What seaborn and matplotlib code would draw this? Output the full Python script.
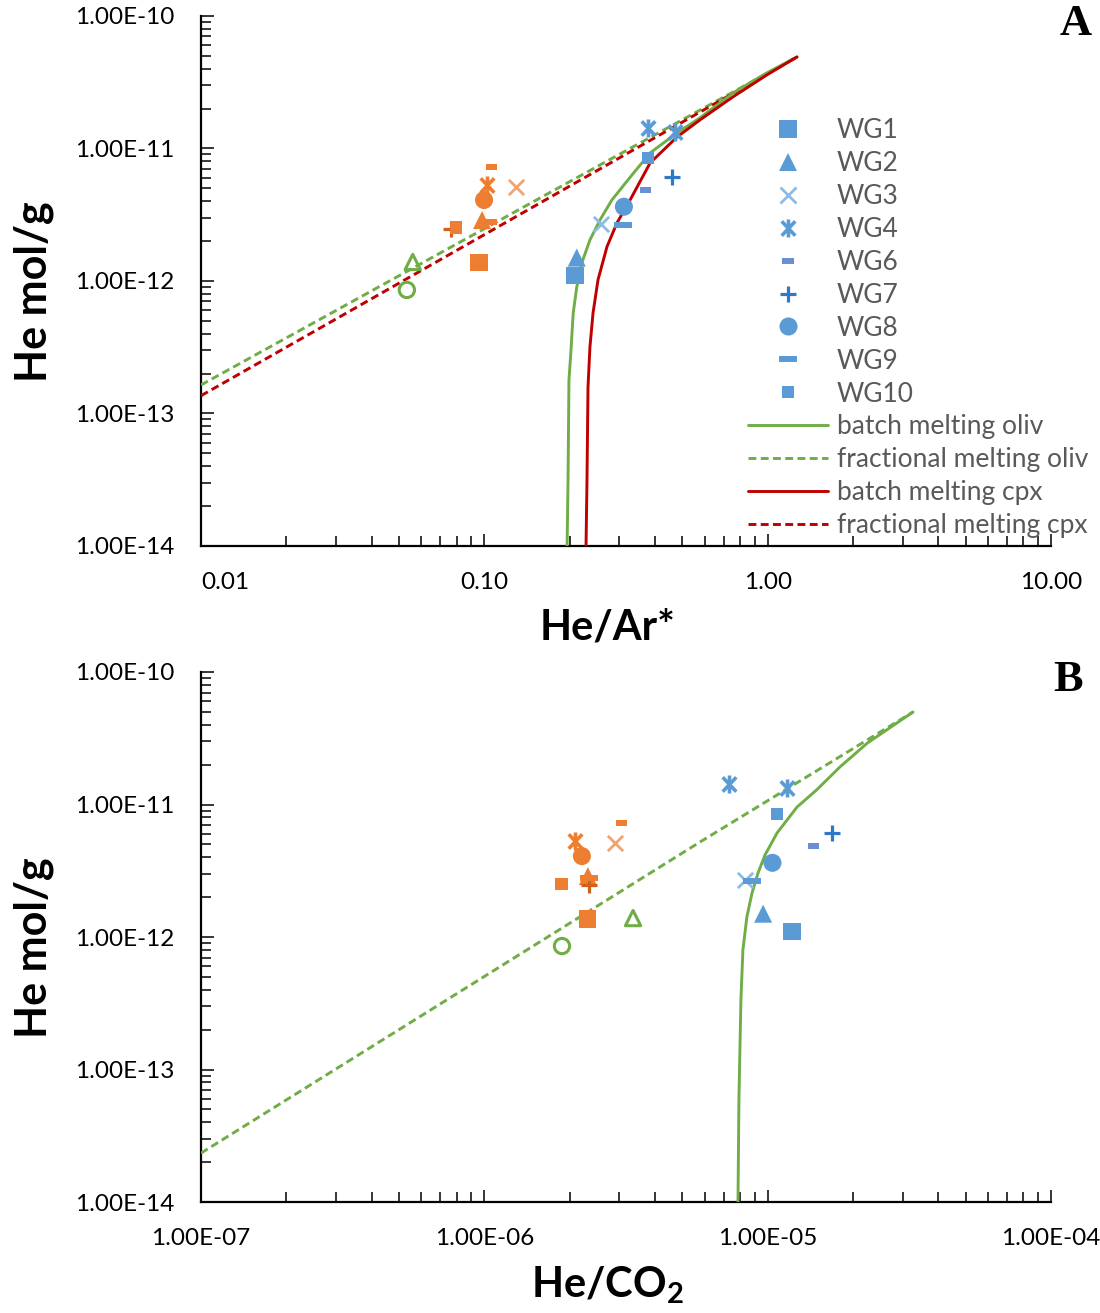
import numpy as np
import pandas as pd
import seaborn as sns
import matplotlib.pyplot as plt
from matplotlib.lines import Line2D
from matplotlib.path import Path
from matplotlib.ticker import FixedLocator, FixedFormatter, LogLocator, NullFormatter

sns.set_theme(style="white")
plt.rcParams['font.family'] = ['Lato', 'DejaVu Sans']
plt.rcParams['mathtext.fontset'] = 'custom'
plt.rcParams['mathtext.rm'] = 'Lato'
plt.rcParams['mathtext.bf'] = 'Lato:bold'

# --- data ---
# legend samples (blue); WG4 has two analyses
samples = ['WG1', 'WG2', 'WG3', 'WG4', 'WG4', 'WG6', 'WG7', 'WG8', 'WG9', 'WG10']
he_mol_g = [1.10e-12, 1.50e-12, 2.70e-12, 1.43e-11, 1.33e-11, 4.86e-12, 6.1e-12, 3.63e-12, 2.63e-12, 8.5e-12]
he_ar = [0.209, 0.212, 0.258, 0.378, 0.471, 0.372, 0.460, 0.311, 0.309, 0.378]
he_co2 = [1.22e-5, 9.64e-6, 8.32e-6, 7.31e-6, 1.17e-5, 1.45e-5, 1.69e-5, 1.04e-5, 8.81e-6, 1.08e-5]

# orange points (same symbols, not in legend)
samples_orange = ['WG1', 'WG2', 'WG3', 'WG4', 'WG6', 'WG7', 'WG8', 'WG9', 'WG10']
he_mol_g_orange = [1.37e-12, 2.88e-12, 5.1e-12, 5.31e-12, 7.24e-12, 2.48e-12, 4.08e-12, 2.80e-12, 2.52e-12]
he_ar_orange = [0.0958, 0.0982, 0.129, 0.1022, 0.1057, 0.0763, 0.0998, 0.103, 0.0794]
he_co2_orange = [2.31e-6, 2.32e-6, 2.89e-6, 2.09e-6, 3.06e-6, 2.34e-6, 2.21e-6, 2.35e-6, 1.87e-6]

# green open symbols
green_open = ['triangle', 'circle']
he_mol_g_green = [1.39e-12, 8.55e-13]
he_ar_green = [0.0559, 0.0533]
he_co2_green = [3.35e-6, 1.88e-6]

# melting model curves, panel A (He/Ar*)
batch_oliv_ar = [0.196, 0.1975, 0.199, 0.202, 0.206, 0.212, 0.221, 0.236, 0.256, 0.282, 0.332, 0.385, 0.479, 0.577, 0.755, 0.995, 1.27]
batch_oliv_he = [1.0e-14, 3.15e-14, 1.79e-13, 2.86e-13, 5.73e-13, 9.0e-13, 1.37e-12, 2.04e-12, 2.88e-12, 4.08e-12, 6.3e-12, 9.25e-12, 1.31e-11, 1.70e-11, 2.62e-11, 3.72e-11, 4.9e-11]
batch_cpx_ar = [0.2286, 0.2304, 0.2323, 0.236, 0.242, 0.252, 0.271, 0.294, 0.327, 0.385, 0.479, 0.577, 0.755, 0.995, 1.27]
batch_cpx_he = [1.0e-14, 3.15e-14, 1.58e-13, 3.18e-13, 5.73e-13, 1.02e-12, 1.81e-12, 2.74e-12, 4.08e-12, 7.78e-12, 1.22e-11, 1.64e-11, 2.45e-11, 3.59e-11, 4.9e-11]
frac_oliv_ar = [0.01, 0.256, 1.27]
frac_oliv_he = [1.64e-13, 7.5e-12, 4.9e-11]
frac_cpx_ar = [0.01, 0.256, 1.27]
frac_cpx_he = [1.36e-13, 7.0e-12, 4.9e-11]

# melting model curves, panel B (He/CO2)
batch_oliv_co2 = [7.86e-6, 7.92e-6, 8.05e-6, 8.18e-6, 8.45e-6, 8.81e-6, 9.25e-6, 9.79e-6, 1.08e-5, 1.27e-5, 1.49e-5, 1.80e-5, 2.25e-5, 3.26e-5]
batch_oliv_co2_he = [1.0e-14, 5.89e-14, 3.35e-13, 7.98e-13, 1.42e-12, 2.15e-12, 3.04e-12, 4.16e-12, 6.1e-12, 9.57e-12, 1.29e-11, 1.92e-11, 2.91e-11, 4.99e-11]
frac_oliv_co2 = [1.0e-7, 5.77e-6, 3.26e-5]
frac_oliv_co2_he = [2.34e-14, 5.21e-12, 4.99e-11]

# axis ticks
y_ticks = [1e-14, 1e-13, 1e-12, 1e-11, 1e-10]
y_ticklabels = ['1.00E-14', '1.00E-13', '1.00E-12', '1.00E-11', '1.00E-10']
xa_ticks = [0.01, 0.1, 1, 10]
xa_ticklabels = ['0.01', '0.10', '1.00', '10.00']
xb_ticks = [1e-7, 1e-6, 1e-5, 1e-4]
xb_ticklabels = ['1.00E-07', '1.00E-06', '1.00E-05', '1.00E-04']

# --- styles ---
BLUE = '#5B9BD5'
ORANGE = '#ED7D31'
GREEN = '#70AD47'
RED = '#C00000'

dash_small = [(-1, -0.6), (1, -0.6), (1, 0.6), (-1, 0.6), (-1, -0.6)]
dash_long = [(-1, -0.32), (1, -0.32), (1, 0.32), (-1, 0.32), (-1, -0.32)]
# excel style asterisk: an x with a vertical bar
asterisk = Path([(-0.75, -0.8), (0.75, 0.8), (-0.75, 0.8), (0.75, -0.8), (0, -1), (0, 1)],
                [Path.MOVETO, Path.LINETO, Path.MOVETO, Path.LINETO, Path.MOVETO, Path.LINETO])

# marker, size(pt), line width, filled
marker_style = {
    'WG1': ('s', 12.5, 0, True),
    'WG2': ('^', 13, 0, True),
    'WG3': ('x', 11, 2.0, False),
    'WG4': (asterisk, 13, 2.6, False),
    'WG6': (dash_small, 8, 0, True),
    'WG7': ('+', 11, 2.3, False),
    'WG8': ('o', 13, 0, True),
    'WG9': (dash_long, 13, 0, True),
    'WG10': ('s', 9, 0, True),
}
blue_colors = {'WG1': BLUE, 'WG2': BLUE, 'WG3': '#8CBBE6', 'WG4': BLUE, 'WG6': '#6B8FD2',
               'WG7': '#2F78C4', 'WG8': BLUE, 'WG9': BLUE, 'WG10': BLUE}
orange_colors = {'WG1': ORANGE, 'WG2': ORANGE, 'WG3': '#F2A372', 'WG4': ORANGE, 'WG6': ORANGE,
                 'WG7': '#D0601A', 'WG8': ORANGE, 'WG9': ORANGE, 'WG10': ORANGE}

DASH = (0, (2.7, 1.5))


def draw_points(ax, names, xs, ys, colors):
    for name, xv, yv in zip(names, xs, ys):
        mk, ms, lw, filled = marker_style[name]
        c = colors[name]
        if filled:
            sns.scatterplot(x=[xv], y=[yv], marker=mk, s=ms ** 2, color=c,
                            edgecolor='none', linewidth=0, ax=ax, legend=False, zorder=4)
        else:
            sns.scatterplot(x=[xv], y=[yv], marker=mk, s=ms ** 2, color=c,
                            edgecolor=c, linewidth=lw, ax=ax, legend=False, zorder=4)


def draw_green(ax, xs, ys):
    for shape, xv, yv in zip(green_open, xs, ys):
        mk = '^' if shape == 'triangle' else 'o'
        sns.scatterplot(x=[xv], y=[yv], marker=mk, s=11 ** 2, color=GREEN, facecolor='none',
                        edgecolor=GREEN, linewidth=2.2, ax=ax, legend=False, zorder=4)


def curve(ax, xs, ys, color, ls='-'):
    sns.lineplot(x=xs, y=ys, sort=False, estimator=None, color=color, linewidth=2.1,
                 linestyle=ls, ax=ax, legend=False, zorder=3)


def style_axis(ax, xticks, xlabels):
    ax.set_xscale('log')
    ax.set_yscale('log')
    ax.set_xlim(xticks[0], xticks[-1])
    ax.set_ylim(y_ticks[0], y_ticks[-1])
    ax.xaxis.set_major_locator(FixedLocator(xticks))
    ax.xaxis.set_major_formatter(FixedFormatter(xlabels))
    ax.yaxis.set_major_locator(FixedLocator(y_ticks))
    ax.yaxis.set_major_formatter(FixedFormatter(y_ticklabels))
    for axis in (ax.xaxis, ax.yaxis):
        axis.set_minor_locator(LogLocator(base=10, subs=np.arange(2, 10), numticks=20))
        axis.set_minor_formatter(NullFormatter())
    ax.tick_params(which='both', direction='in', color='black', width=1.1,
                   left=True, bottom=True, labelsize=17.5, labelcolor='black')
    ax.tick_params(which='major', length=9)
    ax.tick_params(which='minor', length=7)
    ax.tick_params(axis='x', pad=19)
    ax.tick_params(axis='y', pad=19)
    sns.despine(ax=ax)
    for s in ('left', 'bottom'):
        ax.spines[s].set_color('black')
        ax.spines[s].set_linewidth(1.6)
    ax.set_facecolor('white')
    ax.grid(False)


fig = plt.figure(figsize=(11, 13.13), dpi=100)
fig.patch.set_facecolor('white')
ax_a = fig.add_axes([0.1827, 0.5842, 0.7727, 0.4037])
ax_b = fig.add_axes([0.1827, 0.0845, 0.7727, 0.4037])

for ax in (ax_a, ax_b):
    ax.set_xscale('log')
    ax.set_yscale('log')

# Panel A
curve(ax_a, frac_oliv_ar, frac_oliv_he, GREEN, DASH)
curve(ax_a, frac_cpx_ar, frac_cpx_he, RED, DASH)
curve(ax_a, batch_oliv_ar, batch_oliv_he, GREEN)
curve(ax_a, batch_cpx_ar, batch_cpx_he, RED)
draw_green(ax_a, he_ar_green, he_mol_g_green)
draw_points(ax_a, samples_orange, he_ar_orange, he_mol_g_orange, orange_colors)
draw_points(ax_a, samples, he_ar, he_mol_g, blue_colors)
style_axis(ax_a, xa_ticks, xa_ticklabels)
ax_a.get_xticklabels()[0].set_ha('left')

# Panel B
curve(ax_b, frac_oliv_co2, frac_oliv_co2_he, GREEN, DASH)
curve(ax_b, batch_oliv_co2, batch_oliv_co2_he, GREEN)
draw_green(ax_b, he_co2_green, he_mol_g_green)
draw_points(ax_b, samples_orange, he_co2_orange, he_mol_g_orange, orange_colors)
draw_points(ax_b, samples, he_co2, he_mol_g, blue_colors)
style_axis(ax_b, xb_ticks, xb_ticklabels)

# axis labels
for ax, xl in ((ax_a, 'He/Ar*'), (ax_b, r'He/CO$_\mathbf{2}$')):
    ax.set_ylabel('He mol/g', fontsize=31, fontweight='bold', color='black')
    ax.yaxis.set_label_coords(-0.173, 0.48)
    ax.set_xlabel(xl, fontsize=30, fontweight='bold', color='black')
    ax.xaxis.set_label_coords(0.478, -0.118)

fig.text(0.978, 0.9815, 'A', fontsize=32, fontweight='bold', family='Liberation Serif',
         ha='center', va='center', color='black')
fig.text(0.971, 0.482, 'B', fontsize=32, fontweight='bold', family='Liberation Serif',
         ha='center', va='center', color='black')

# legend (panel A)
handles = []
legend_names = ['WG1', 'WG2', 'WG3', 'WG4', 'WG6', 'WG7', 'WG8', 'WG9', 'WG10']
for name in legend_names:
    mk, ms, lw, filled = marker_style[name]
    c = blue_colors[name]
    handles.append(Line2D([], [], linestyle='none', marker=mk, markersize=ms,
                          markerfacecolor=c if filled else 'none', markeredgecolor=c,
                          markeredgewidth=lw if not filled else 0, label=name))
handles += [
    Line2D([], [], color=GREEN, lw=2.1, label='batch melting oliv'),
    Line2D([], [], color=GREEN, lw=2.1, linestyle=DASH, label='fractional melting oliv'),
    Line2D([], [], color=RED, lw=2.1, label='batch melting cpx'),
    Line2D([], [], color=RED, lw=2.1, linestyle=DASH, label='fractional melting cpx'),
]
leg = ax_a.legend(handles=handles, loc='upper left', bbox_to_anchor=(0.6435, 0.807),
                  frameon=False, fontsize=19, handlelength=3.03, handletextpad=0.34,
                  labelspacing=0.30, borderpad=0, borderaxespad=0, numpoints=1)
for t in leg.get_texts():
    t.set_color('#595959')

fig.savefig('out.png', dpi=100)
